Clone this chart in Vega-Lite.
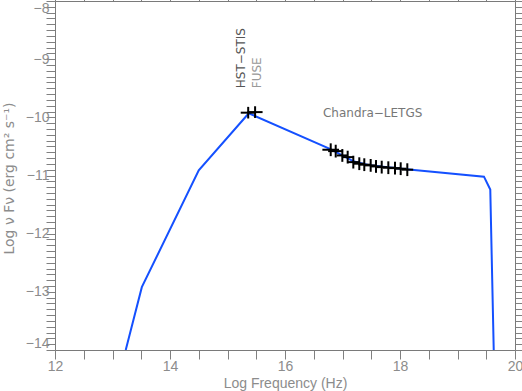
{
  "$schema": "https://vega.github.io/schema/vega-lite/v6.json",
  "autosize": "none",
  "width": 460,
  "height": 349,
  "padding": {"left": 55, "top": 1, "right": 7, "bottom": 41},
  "background": "white",
  "config": {
    "view": {"stroke": null},
    "axis": {
      "grid": false,
      "ticks": true,
      "tickSize": 9,
      "tickWidth": 1,
      "tickOpacity": 1,
      "domainColor": "#7a7a7a",
      "tickColor": "#808080",
      "labelColor": "#8c8c8c",
      "titleColor": "#8c8c8c",
      "labelFont": "Liberation Sans",
      "titleFont": "Liberation Sans",
      "labelFontSize": 14,
      "titleFontSize": 14,
      "titleFontWeight": "normal"
    }
  },
  "datasets": {
    "sed": [
      {"logf": 13.23, "lognf": -14.0},
      {"logf": 13.51, "lognf": -12.92},
      {"logf": 14.5, "lognf": -10.91},
      {"logf": 15.37, "lognf": -9.93},
      {"logf": 16.8, "lognf": -10.55},
      {"logf": 17.2, "lognf": -10.76},
      {"logf": 17.5, "lognf": -10.83},
      {"logf": 18.2, "lognf": -10.9},
      {"logf": 19.46, "lognf": -11.02},
      {"logf": 19.57, "lognf": -11.24},
      {"logf": 19.63, "lognf": -14.0}
    ],
    "obs": [
      {"inst": "HST-STIS", "logf": 15.36, "lognf": -9.92, "flo": 15.23, "fhi": 15.49, "ylo": -10.02, "yhi": -9.82},
      {"inst": "FUSE", "logf": 15.48, "lognf": -9.91, "flo": 15.35, "fhi": 15.61, "ylo": -10.01, "yhi": -9.81},
      {"inst": "LETGS", "logf": 16.795, "lognf": -10.557, "flo": 16.65, "fhi": 16.94, "ylo": -10.667, "yhi": -10.447},
      {"inst": "LETGS", "logf": 16.882, "lognf": -10.581, "flo": 16.75, "fhi": 17.01, "ylo": -10.691, "yhi": -10.471},
      {"inst": "LETGS", "logf": 16.997, "lognf": -10.655, "flo": 16.9, "fhi": 17.09, "ylo": -10.765, "yhi": -10.545},
      {"inst": "LETGS", "logf": 17.09, "lognf": -10.684, "flo": 16.99, "fhi": 17.19, "ylo": -10.794, "yhi": -10.574},
      {"inst": "LETGS", "logf": 17.188, "lognf": -10.77, "flo": 17.09, "fhi": 17.29, "ylo": -10.88, "yhi": -10.66},
      {"inst": "LETGS", "logf": 17.292, "lognf": -10.797, "flo": 17.19, "fhi": 17.39, "ylo": -10.907, "yhi": -10.687},
      {"inst": "LETGS", "logf": 17.379, "lognf": -10.814, "flo": 17.28, "fhi": 17.48, "ylo": -10.924, "yhi": -10.704},
      {"inst": "LETGS", "logf": 17.49, "lognf": -10.826, "flo": 17.39, "fhi": 17.59, "ylo": -10.936, "yhi": -10.716},
      {"inst": "LETGS", "logf": 17.583, "lognf": -10.844, "flo": 17.48, "fhi": 17.68, "ylo": -10.954, "yhi": -10.734},
      {"inst": "LETGS", "logf": 17.682, "lognf": -10.856, "flo": 17.58, "fhi": 17.78, "ylo": -10.966, "yhi": -10.746},
      {"inst": "LETGS", "logf": 17.797, "lognf": -10.866, "flo": 17.7, "fhi": 17.9, "ylo": -10.976, "yhi": -10.756},
      {"inst": "LETGS", "logf": 17.913, "lognf": -10.873, "flo": 17.81, "fhi": 18.01, "ylo": -10.983, "yhi": -10.763},
      {"inst": "LETGS", "logf": 18.012, "lognf": -10.883, "flo": 17.91, "fhi": 18.11, "ylo": -10.993, "yhi": -10.773},
      {"inst": "LETGS", "logf": 18.127, "lognf": -10.9, "flo": 18.03, "fhi": 18.23, "ylo": -11.01, "yhi": -10.79}
    ]
  },
  "resolve": {"axis": {"x": "independent", "y": "independent"}},
  "layer": [
    {
      "data": {"name": "sed"},
      "mark": {"type": "line", "color": "#1450ff", "strokeWidth": 2, "clip": true},
      "encoding": {
        "x": {
          "field": "logf", "type": "quantitative",
          "scale": {"domain": [12, 20], "nice": false, "zero": false},
          "axis": {
            "orient": "bottom",
            "title": "Log Frequency (Hz)",
            "values": [12, 12.5, 13, 13.5, 14, 14.5, 15, 15.5, 16, 16.5, 17, 17.5, 18, 18.5, 19, 19.5, 20],
            "labelExpr": "datum.value % 2 === 0 ? format(datum.value, 'd') : ''",
            "labelPadding": 0,
            "labelFlush": false,
            "titleX": 230,
            "titleY": 33,
            "titleAnchor": "middle",
            "titleAlign": "center",
            "titleBaseline": "middle",
            "encode": {"ticks": {"update": {"y2": {"signal": "datum.value % 2 === 0 ? -9 : -5"}}}}
          }
        },
        "y": {
          "field": "lognf", "type": "quantitative",
          "scale": {"domain": [-14, -8], "nice": false, "zero": false},
          "axis": {
            "orient": "left",
            "title": "Log ν Fν  (erg cm² s⁻¹)",
            "titleFont": "DejaVu Sans",
            "titleFontSize": 14,
            "values": [-14, -13.9, -13.8, -13.7, -13.6, -13.5, -13.4, -13.3, -13.2, -13.1, -13, -12.9, -12.8, -12.7, -12.6, -12.5, -12.4, -12.3, -12.2, -12.1, -12, -11.9, -11.8, -11.7, -11.6, -11.5, -11.4, -11.3, -11.2, -11.1, -11, -10.9, -10.8, -10.7, -10.6, -10.5, -10.4, -10.3, -10.2, -10.1, -10, -9.9, -9.8, -9.7, -9.6, -9.5, -9.4, -9.3, -9.2, -9.1, -9, -8.9, -8.8, -8.7, -8.6, -8.5, -8.4, -8.3, -8.2, -8.1, -8],
            "labelExpr": "abs(datum.value - round(datum.value)) < 0.001 ? format(datum.value, 'd') : ''",
            "labelPadding": -3,
            "labelFlush": true,
            "titleX": -46,
            "titleY": 177,
            "titleAngle": 270,
            "titleAlign": "center",
            "titleBaseline": "middle",
            "encode": {"ticks": {"update": {"x2": {"signal": "abs(datum.value - round(datum.value)) < 0.001 ? 9 : 5"}}}}
          }
        }
      }
    },
    {
      "data": {"name": "obs"},
      "mark": {"type": "rule", "color": "black", "strokeWidth": 2},
      "encoding": {
        "x": {
          "field": "flo", "type": "quantitative",
          "axis": {
            "orient": "top",
            "title": null,
            "labels": false,
            "values": [12, 12.5, 13, 13.5, 14, 14.5, 15, 15.5, 16, 16.5, 17, 17.5, 18, 18.5, 19, 19.5, 20],
            "encode": {"ticks": {"update": {"y2": {"signal": "datum.value % 2 === 0 ? 9 : 5"}}}}
          }
        },
        "x2": {"field": "fhi"},
        "y": {
          "field": "lognf", "type": "quantitative",
          "axis": {
            "orient": "right",
            "title": null,
            "labels": false,
            "values": [-14, -13.9, -13.8, -13.7, -13.6, -13.5, -13.4, -13.3, -13.2, -13.1, -13, -12.9, -12.8, -12.7, -12.6, -12.5, -12.4, -12.3, -12.2, -12.1, -12, -11.9, -11.8, -11.7, -11.6, -11.5, -11.4, -11.3, -11.2, -11.1, -11, -10.9, -10.8, -10.7, -10.6, -10.5, -10.4, -10.3, -10.2, -10.1, -10, -9.9, -9.8, -9.7, -9.6, -9.5, -9.4, -9.3, -9.2, -9.1, -9, -8.9, -8.8, -8.7, -8.6, -8.5, -8.4, -8.3, -8.2, -8.1, -8],
            "encode": {"ticks": {"update": {"x2": {"signal": "abs(datum.value - round(datum.value)) < 0.001 ? -9 : -5"}}}}
          }
        }
      }
    },
    {
      "data": {"name": "obs"},
      "mark": {"type": "rule", "color": "black", "strokeWidth": 2},
      "encoding": {
        "x": {"field": "logf", "type": "quantitative", "axis": null},
        "y": {"field": "ylo", "type": "quantitative", "axis": null},
        "y2": {"field": "yhi"}
      }
    },
    {
      "data": {"values": [{}]},
      "mark": {"type": "text", "angle": 270, "align": "left", "baseline": "middle", "font": "DejaVu Sans", "fontSize": 12, "color": "#555555"},
      "encoding": {
        "x": {"datum": 15.235, "type": "quantitative", "axis": null},
        "y": {"datum": -9.5, "type": "quantitative", "axis": null},
        "text": {"value": "HST−STIS"}
      }
    },
    {
      "data": {"values": [{}]},
      "mark": {"type": "text", "angle": 270, "align": "left", "baseline": "middle", "font": "DejaVu Sans", "fontSize": 12, "color": "#999999"},
      "encoding": {
        "x": {"datum": 15.51, "type": "quantitative", "axis": null},
        "y": {"datum": -9.5, "type": "quantitative", "axis": null},
        "text": {"value": "FUSE"}
      }
    },
    {
      "data": {"values": [{}]},
      "mark": {"type": "text", "align": "left", "baseline": "middle", "font": "DejaVu Sans", "fontSize": 12, "color": "#777777"},
      "encoding": {
        "x": {"datum": 16.66, "type": "quantitative", "axis": null},
        "y": {"datum": -9.93, "type": "quantitative", "axis": null},
        "text": {"value": "Chandra−LETGS"}
      }
    }
  ]
}
